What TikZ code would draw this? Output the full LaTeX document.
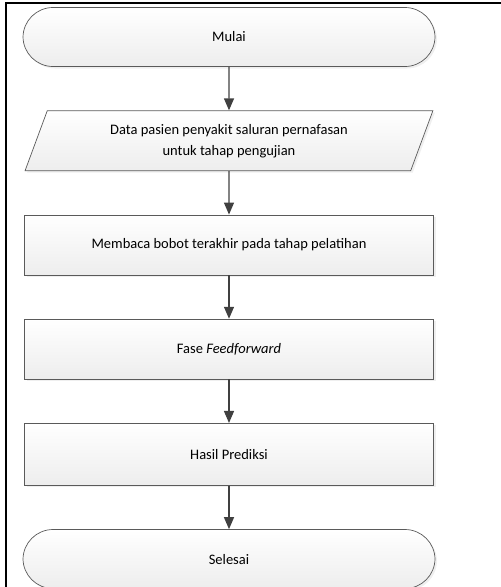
\documentclass[tikz,border=0pt]{standalone}
\usepackage{fontspec}
\setmainfont{Carlito}
\usetikzlibrary{arrows.meta}
\usetikzlibrary{positioning}
\usetikzlibrary{shapes.geometric}
\usetikzlibrary{shadows}
\definecolor{f1}{RGB}{90,90,90}
\definecolor{f2}{RGB}{64,64,64}

\begin{document}
\begin{tikzpicture}[
    x=1pt, y=-1pt,
    node distance=43.5pt,
    every node/.style={
        align=center, font=\fontsize{14.5}{21}\selectfont
    },
    box/.style={
        draw=f1, line width=0.7pt,
        top color=white, bottom color=black!7,
        drop shadow={shadow xshift=2pt, shadow yshift=-2pt, fill=black!12},
        minimum width=409pt, minimum height=60pt, inner sep=0pt
    },
    term/.style={
        box, rounded corners=30pt,
        minimum width=412pt, minimum height=59pt
    },
    io/.style={
        box, trapezium, trapezium stretches=true,
        trapezium left angle=66.6, trapezium right angle=113.4
    },
    line/.style={
        draw=f2, line width=1.3pt,
        -{Triangle[length=12pt, width=10pt]}
    }
]

    \useasboundingbox (0,0) rectangle (501,587);
    \draw[line width=2pt] (6,587) -- (6,3) -- (501,3);

    \node[term] (mulai) at (229,37) {Mulai};
    \node[io, below=of mulai] (data)
        {Data pasien penyakit saluran pernafasan\\untuk tahap pengujian};
    \node[box, below=of data] (bobot)
        {Membaca bobot terakhir pada tahap pelatihan};
    \node[box, below=of bobot] (fase) {Fase \textit{Feedforward}};
    \node[box, below=of fase, minimum height=62pt] (hasil) {Hasil Prediksi};
    \node[term, below=of hasil] (selesai) {Selesai};

    \foreach \a/\b in {mulai/data, data/bobot, bobot/fase,
                       fase/hasil, hasil/selesai}
        \draw[line] (\a) -- (\b);

\end{tikzpicture}
\end{document}
